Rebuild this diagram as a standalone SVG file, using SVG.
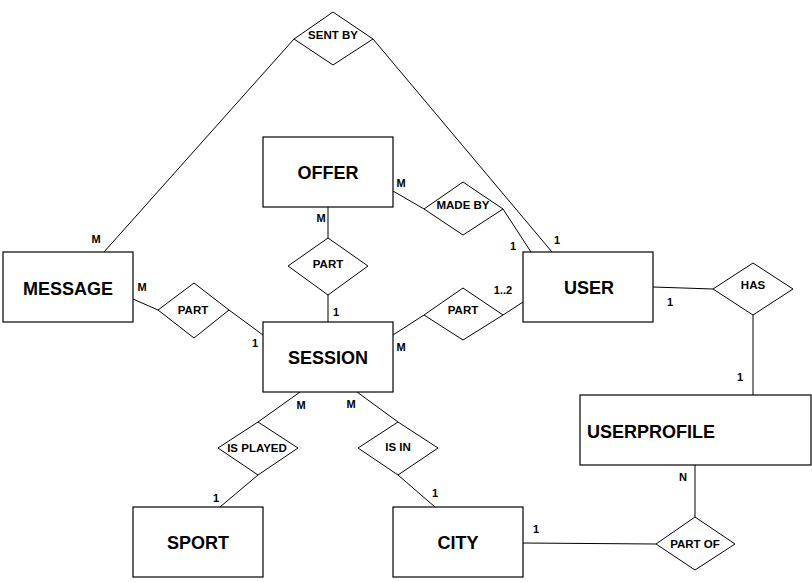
<svg xmlns="http://www.w3.org/2000/svg" width="812" height="582" viewBox="0 0 812 582">
<style>
.ent{fill:#fff;stroke:#000;stroke-width:1.2}
.rel{fill:#fff;stroke:#000;stroke-width:1}
.et{font-family:"Liberation Sans",Arial,sans-serif;font-weight:bold;font-size:18px;text-anchor:middle;fill:#000}
.rt{font-family:"Liberation Sans",Arial,sans-serif;font-weight:bold;font-size:11.5px;text-anchor:middle;fill:#000}
.lb{font-family:"Liberation Sans",Arial,sans-serif;font-weight:bold;font-size:11px;text-anchor:middle;fill:#000}
.cn line{stroke:#000;stroke-width:1}
</style>
<rect width="812" height="582" fill="#fff"/>
<g id="connectors" class="cn">
<line x1="104" y1="252" x2="294" y2="39"/>
<line x1="373" y1="39" x2="552" y2="252"/>
<line x1="393" y1="191" x2="424" y2="209"/>
<line x1="503" y1="209" x2="531" y2="252"/>
<line x1="328" y1="207" x2="328" y2="238"/>
<line x1="328" y1="295" x2="328" y2="322"/>
<line x1="133" y1="299" x2="158" y2="310"/>
<line x1="229" y1="310" x2="263" y2="335"/>
<line x1="393" y1="335" x2="424" y2="315"/>
<line x1="503" y1="315" x2="523" y2="302"/>
<line x1="653" y1="287" x2="713" y2="289"/>
<line x1="753" y1="315" x2="753" y2="395"/>
<line x1="695" y1="465" x2="695" y2="517"/>
<line x1="523" y1="543" x2="656" y2="544"/>
<line x1="300" y1="392" x2="258" y2="422"/>
<line x1="258" y1="475" x2="220" y2="507"/>
<line x1="357" y1="392" x2="398" y2="422"/>
<line x1="398" y1="475" x2="435" y2="507"/>
</g>
<g id="sentby"><polygon class="rel" points="333,12 373,39 333,65 294,39"/><text class="rt" x="333" y="39">SENT BY</text></g>
<g id="offer"><rect class="ent" x="263" y="137" width="130" height="70"/><text class="et" x="328" y="179">OFFER</text></g>
<g id="madeby"><polygon class="rel" points="463,182 503,209 463,235 424,209"/><text class="rt" x="463" y="209">MADE BY</text></g>
<g id="user"><rect class="ent" x="523" y="252" width="130" height="70"/><text class="et" x="589" y="294">USER</text></g>
<g id="has"><polygon class="rel" points="753,263 793,289 753,315 713,289"/><text class="rt" x="753" y="289">HAS</text></g>
<g id="userprofile"><rect class="ent" x="580" y="395" width="231" height="70"/><text class="et" x="587" y="438" style="text-anchor:start">USERPROFILE</text></g>
<g id="partof"><polygon class="rel" points="695,517 735,544 695,570 656,544"/><text class="rt" x="695" y="548">PART OF</text></g>
<g id="message"><rect class="ent" x="3" y="252" width="130" height="70"/><text class="et" x="68" y="295">MESSAGE</text></g>
<g id="partmsg"><polygon class="rel" points="194,283 229,310 194,338 158,310"/><text class="rt" x="193" y="314">PART</text></g>
<g id="partoffer"><polygon class="rel" points="328,238 368,266 328,295 288,266"/><text class="rt" x="328" y="268">PART</text></g>
<g id="session"><rect class="ent" x="263" y="322" width="130" height="70"/><text class="et" x="328" y="364">SESSION</text></g>
<g id="partuser"><polygon class="rel" points="463,288 503,315 463,340 424,315"/><text class="rt" x="463" y="314">PART</text></g>
<g id="isplayed"><polygon class="rel" points="258,422 298,448 258,475 218,448"/><text class="rt" x="257" y="452">IS PLAYED</text></g>
<g id="isin"><polygon class="rel" points="398,422 438,448 398,475 358,448"/><text class="rt" x="398" y="451">IS IN</text></g>
<g id="sport"><rect class="ent" x="133" y="507" width="130" height="70"/><text class="et" x="198" y="549">SPORT</text></g>
<g id="city"><rect class="ent" x="393" y="507" width="130" height="70"/><text class="et" x="458" y="549">CITY</text></g>
<g id="labels">
<text class="lb" x="96" y="243">M</text>
<text class="lb" x="142" y="291">M</text>
<text class="lb" x="255" y="347">1</text>
<text class="lb" x="401" y="187">M</text>
<text class="lb" x="321" y="222">M</text>
<text class="lb" x="513" y="250">1</text>
<text class="lb" x="557" y="244">1</text>
<text class="lb" x="336" y="316">1</text>
<text class="lb" x="503" y="294">1..2</text>
<text class="lb" x="401" y="351">M</text>
<text class="lb" x="670" y="306">1</text>
<text class="lb" x="740" y="381">1</text>
<text class="lb" x="683" y="481">N</text>
<text class="lb" x="301" y="409">M</text>
<text class="lb" x="351" y="408">M</text>
<text class="lb" x="216" y="502">1</text>
<text class="lb" x="435" y="497">1</text>
<text class="lb" x="536" y="533">1</text>
</g>
</svg>
